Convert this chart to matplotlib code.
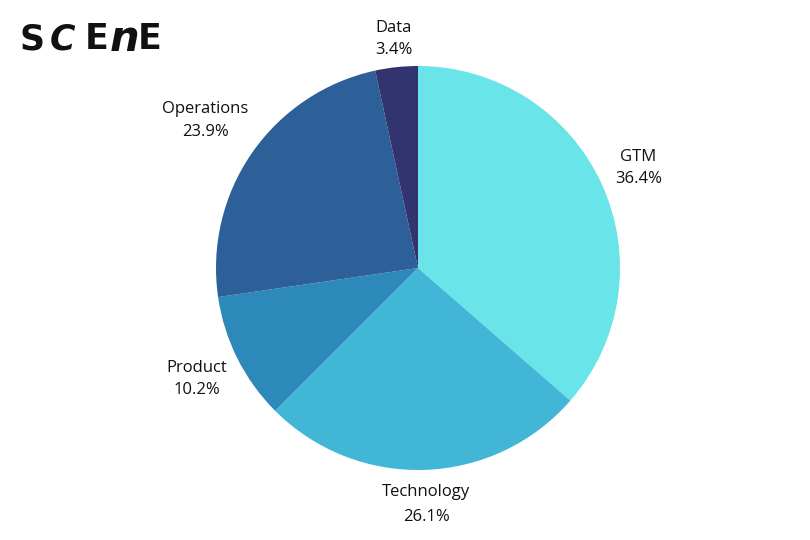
import numpy as np
import matplotlib.pyplot as plt

# department share of headcount
departments = ["GTM", "Technology", "Product", "Operations", "Data"]
shares = [36.4, 26.1, 10.2, 23.9, 3.4]
colors = ["#69E4E8", "#42B6D6", "#2C89BA", "#2D5F98", "#31346E"]

plt.rcParams['font.family'] = ['Open Sans', 'DejaVu Sans']

fig = plt.figure(figsize=(8.1, 5.4), dpi=100)
W, H = 810, 540
# pie box in pixels: centre (418, 268), radius 202
ax = fig.add_axes([216 / W, 70 / H, 404 / W, 404 / H])

labels = [f"{d}\n{s}%" for d, s in zip(departments, shares)]
wedges, texts = ax.pie(shares, colors=colors, startangle=90, counterclock=False,
                       labels=labels, labeldistance=1.2,
                       textprops=dict(fontsize=12, color="#111111", linespacing=1.45))

# label distances and line gaps as laid out in the original
label_r = [1.2, 1.17, 1.225, 1.28, 1.14]
spacing = [1.5, 1.75, 1.45, 1.6, 1.45]
for w, t, r, sp in zip(wedges, texts, label_r, spacing):
    ang = np.deg2rad((w.theta1 + w.theta2) / 2)
    t.set_position((r * np.cos(ang), r * np.sin(ang)))
    t.set_ha("center")
    t.set_va("center")
    t.set_linespacing(sp)
ax.set_xlim(-1, 1)
ax.set_ylim(-1, 1)
ax.set_aspect("equal")

# logo, built from pieces
logo_y = 1 - 39 / H
parts = [("S", 19, "normal"), ("C", 50, "italic"), ("E", 85, "normal"),
         ("n", 110, "italic"), ("E", 138, "normal")]
for ch, px, style in parts:
    fig.text(px / W, logo_y, ch, fontsize=25 if ch != "n" else 30, fontstyle=style,
             fontweight="bold", color="#111111", va="center", ha="left",
             family=["DejaVu Sans"])

fig.savefig("out.png", dpi=100)
